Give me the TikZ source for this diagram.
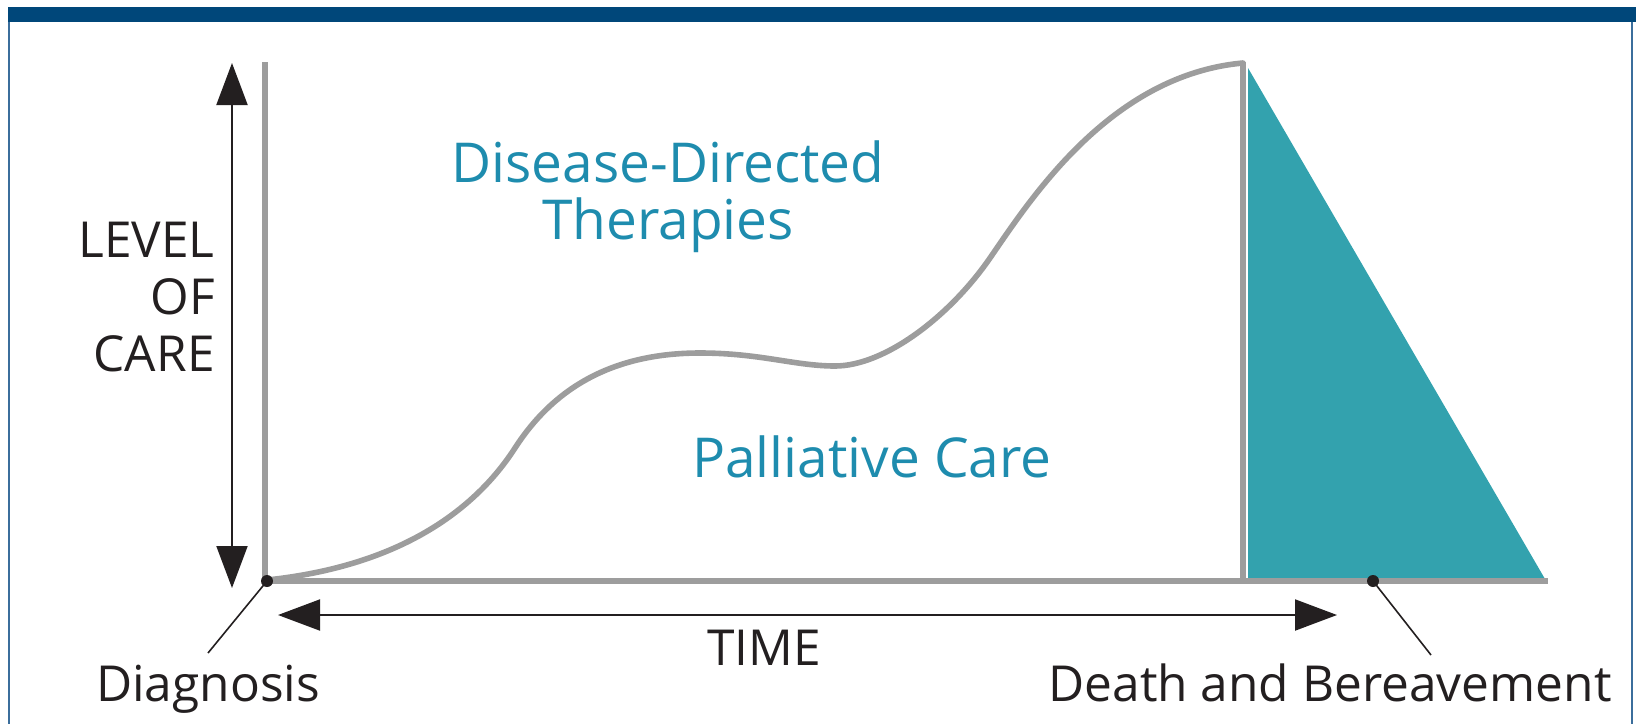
\documentclass[tikz,border=0pt]{standalone}
\usepackage{fontspec}
\setmainfont{Open Sans}
\usetikzlibrary{arrows.meta}
\definecolor{bandblue}{HTML}{00477A}
\definecolor{edgeblue}{HTML}{3B6E9C}
\definecolor{careteal}{HTML}{33A2AE}
\definecolor{labelteal}{HTML}{1E8CAE}
\definecolor{axisgray}{HTML}{9D9D9D}
\definecolor{inkblack}{HTML}{231F20}
\begin{document}
\begin{tikzpicture}
[x=0.5pt,y=-0.5pt]
\tikzset{axis/.style={draw=axisgray,line width=2.8pt}}
\tikzset{span/.style={draw=inkblack,line width=1pt,{Triangle[length=21pt,width=15.5pt]}-{Triangle[length=21pt,width=15.5pt]}}}
\tikzset{leader/.style={draw=inkblack,line width=0.8pt}}
\tikzset{dot/.style={circle,fill=inkblack,inner sep=0pt,minimum size=6pt}}
\tikzset{blacktext/.style={text=inkblack,font=\fontsize{24.8}{28.5}\selectfont,inner sep=0pt}}
\tikzset{tealtext/.style={text=labelteal,font=\fontsize{27.5}{28.5}\selectfont,inner sep=0pt}}
\useasboundingbox (0,0) rectangle (1636,724);
% frame
\fill[bandblue] (8,7) rectangle (1636,22);
\draw[edgeblue,line width=1pt] (9,22) -- (9,724);
\draw[edgeblue,line width=1pt] (1632,22) -- (1632,724);
% points of the chart
\coordinate (origin) at (267,581);
\coordinate (ytop) at (265,62);
\coordinate (deathtop) at (1243,62);
\coordinate (deathbase) at (1243,581);
\coordinate (xend) at (1548,581);
\coordinate (lvtop) at (232,63);
\coordinate (lvbot) at (232,588);
\coordinate (tleft) at (278,615);
\coordinate (tright) at (1337,615);
\coordinate (diagfoot) at (208,653);
\coordinate (deathfoot) at (1431,655);
% bereavement wedge
\fill[careteal] (1248,68) -- (1545,579) -- (1248,579) -- cycle;
% axes
\draw[axis] (ytop) -- (265,581);
\draw[axis] (origin) -- (xend);
\draw[axis] (deathtop) -- (deathbase);
\draw[axis,line cap=round] (267,580) .. controls (400,566) and (475,510) .. (515,448)
  .. controls (555,386) and (615,353) .. (700,353)
  .. controls (760,353) and (795,366) .. (835,366)
  .. controls (885,366) and (950,316) .. (990,258)
  .. controls (1030,200) and (1110,75) .. (1243,63);
% arrows
\draw[span] (lvbot) -- (lvtop);
\draw[span] (tleft) -- (tright);
% markers
\node[dot] (diagdot) at (origin) {};
\node[dot] (deathdot) at (1373,581) {};
\draw[leader] (diagdot.center) -- (diagfoot);
\draw[leader] (deathdot.center) -- (deathfoot);
% labels
\node[blacktext,align=right,anchor=north east] (level) at (215,222) {LEVEL\\OF\\CARE};
\node[tealtext,align=center,anchor=north] (ddt) at (668,140) {Disease-Directed\\Therapies};
\node[tealtext,anchor=base] (palliative) at (872,477) {Palliative Care};
\node[blacktext,anchor=base] (time) at (764,665) {TIME};
\node[blacktext,anchor=base] (diagnosis) at (208,701) {Diagnosis};
\node[blacktext,anchor=base] (bereavement) at (1330,701) {Death and Bereavement};
\end{tikzpicture}
\end{document}
